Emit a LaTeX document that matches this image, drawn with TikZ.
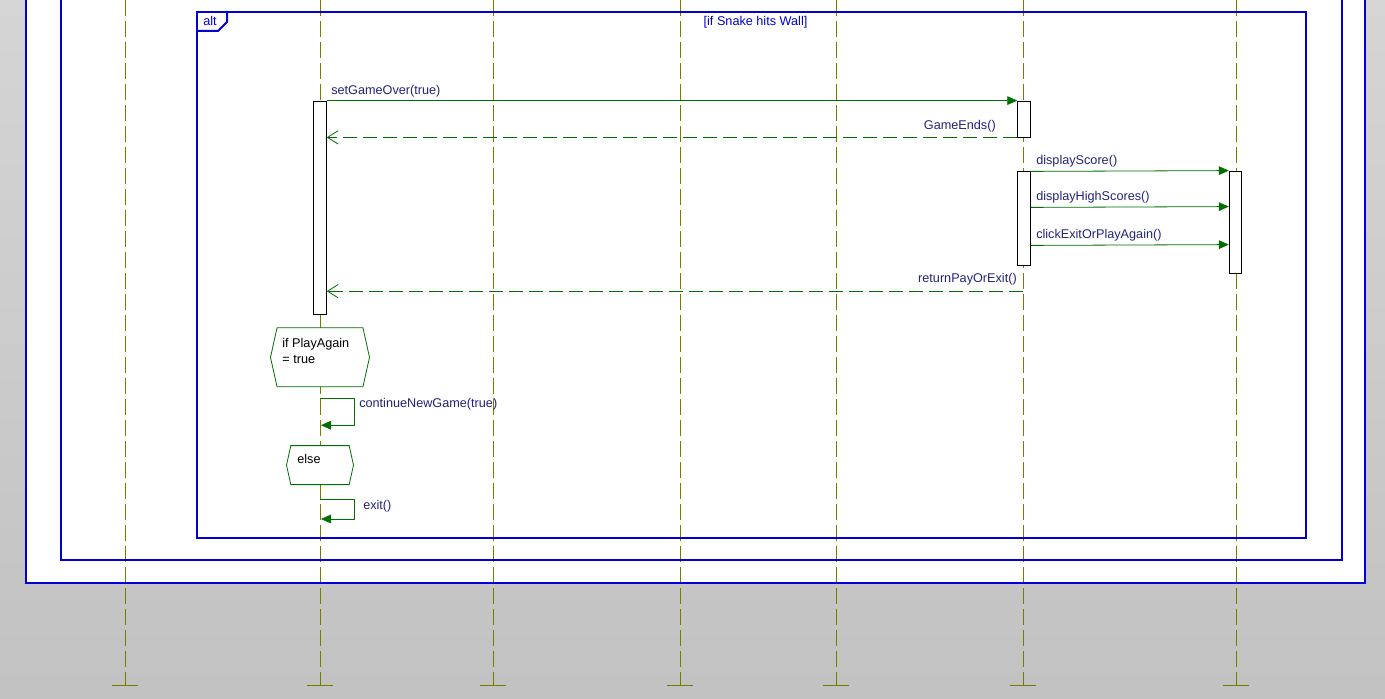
\documentclass[tikz,border=0pt]{standalone}
\usepackage{fontspec}
\setmainfont{Liberation Sans}
\usepackage{tikz}
\usetikzlibrary{shapes.symbols}
\usetikzlibrary{positioning}
\usetikzlibrary{calc}
\usetikzlibrary{arrows.meta}
\definecolor{frameblue}{RGB}{0,0,215}
\definecolor{lifeolive}{RGB}{122,122,0}
\definecolor{msggreen}{RGB}{0,110,0}
\definecolor{msgtext}{RGB}{35,35,125}
\tikzset{
	lifeline/.style={lifeolive,line width=0.6pt,dash pattern=on 12pt off 3.75pt},
	tick/.style={lifeolive,line width=0.6pt},
	frame/.style={frameblue,line width=1.5pt},
	act/.style={rectangle,draw=black,fill=white,line width=0.6pt,minimum width=9.5pt,inner sep=0pt},
	call/.style={msggreen,line width=0.6pt,-{Triangle[length=7.5pt,width=6.5pt]}},
	reply/.style={msggreen,line width=0.6pt,dash pattern=on 10.5pt off 4.5pt,
		-{Straight Barb[length=8pt,width=10pt]}},
	msg/.style={font=\fontsize{9.5}{12}\selectfont,text=msgtext,inner sep=0pt},
	cond/.style={signal,signal to=east and west,signal pointer angle=155,draw=msggreen,
		fill=white,line width=0.6pt,inner sep=0pt},
	condtext/.style={font=\fontsize{9.5}{12}\selectfont,align=left,inner sep=0pt}
}

\begin{document}
\begin{tikzpicture}[x=0.75pt,y=-0.75pt]
	\useasboundingbox (0,0) rectangle (1385,699);
	\clip (0,0) rectangle (1385,699);

	% window and diagram background
	\shade[top color=gray!33,bottom color=gray!48] (0,0) rectangle (1385,699);
	\fill[white] (26,-20) rectangle (1365,583);

	% lifelines
	\coordinate (top1) at (125,0);  \coordinate (bot1) at (125,685);
	\coordinate (top2) at (320,0);  \coordinate (bot2) at (320,685);
	\coordinate (top3) at (493,0);  \coordinate (bot3) at (493,685);
	\coordinate (top4) at (680,0);  \coordinate (bot4) at (680,685);
	\coordinate (top5) at (836,0);  \coordinate (bot5) at (836,685);
	\coordinate (top6) at (1023,0); \coordinate (bot6) at (1023,685);
	\coordinate (top7) at (1236,0); \coordinate (bot7) at (1236,685);
	\path[lifeline]
	  (top1) edge (bot1)
	  (top2) edge (bot2)
	  (top3) edge (bot3)
	  (top4) edge (bot4)
	  (top5) edge (bot5)
	  (top6) edge (bot6)
	  (top7) edge (bot7);
	\path[tick]
	  ([xshift=-9.75pt]bot1) edge ([xshift=9.75pt]bot1)
	  ([xshift=-9.75pt]bot2) edge ([xshift=9.75pt]bot2)
	  ([xshift=-9.75pt]bot3) edge ([xshift=9.75pt]bot3)
	  ([xshift=-9.75pt]bot4) edge ([xshift=9.75pt]bot4)
	  ([xshift=-9.75pt]bot5) edge ([xshift=9.75pt]bot5)
	  ([xshift=-9.75pt]bot6) edge ([xshift=9.75pt]bot6)
	  ([xshift=-9.75pt]bot7) edge ([xshift=9.75pt]bot7);

	% frames
	\draw[frame] (26,-20) rectangle (1365,583);
	\draw[frame] (61,-20) rectangle (1342,560);
	\node[frame,draw,rectangle,minimum width=831.75pt,minimum height=394.5pt,inner sep=0pt] (alt) at (751.5,275) {};
	\draw[frame] (alt.north west) ++(0,20) -- ++(22,0) -- ++(9,-9) -- ++(0,-11);
	\node[msg,text=frameblue,anchor=west] (alttag) at ($(alt.north west)+(7,10)$) {alt};
	\node[msg,text=frameblue] (guard) at ($(alt.north)+(4,11)$) {[if Snake hits Wall]};

	% activations
	\node[act,minimum height=159.75pt] (act2) at (320,207.5) {};
	\node[act,minimum height=27pt] (act6a) at (1024,119) {};
	\node[act,minimum height=70.5pt] (act6b) [below=25.5pt of act6a] {};
	\node[act,minimum height=76.5pt] (act7) at (1235.5,222) {};

	% messages
	\draw[call] (act2.north east) -- (act6a.north west);
	\node[msg,anchor=west] (m1) at (331,91) {setGameOver(true)};
	\draw[reply] (act6a.south west) -- (act6a.south west -| act2.east);
	\node[msg,anchor=east] (m2) at (996,126) {GameEnds()};
	\draw[call] (act6b.north east) -- (act7.north west);
	\node[msg,anchor=west] (m3) at (1036,161) {displayScore()};
	\draw[call] ($(act6b.north east)+(0,36)$) -- ($(act7.north west)+(0,36)$);
	\node[msg,anchor=west] (m4) at (1036,197) {displayHighScores()};
	\draw[call] ($(act6b.north east)+(0,74)$) -- ($(act7.north west)+(0,74)$);
	\node[msg,anchor=west] (m5) at (1036,235) {clickExitOrPlayAgain()};
	\coordinate (ret) at ($(act6b.south)+(-1,25)$);
	\draw[reply] (ret) -- (ret -| act2.east);
	\node[msg,anchor=east] (m6) at (1017,279) {returnPayOrExit()};

	% alternatives
	\node[cond,minimum width=74.25pt,minimum height=44.25pt] (hex1) [below=9.75pt of act2] {};
	\node[condtext,anchor=west] (c1) at ($(hex1.west)+(12,-6.5)$) {if PlayAgain\\= true};
	\draw[call] ($(hex1.south)+(0,11)$) -- ++(34,0) -- ++(0,27) -- ++(-33,0);
	\node[msg,anchor=west] (m7) at (359,404) {continueNewGame(true)};
	\node[cond,minimum width=50.25pt,minimum height=29.25pt] (hex2) [below=43.5pt of hex1] {};
	\node[condtext,anchor=west] (c2) at ($(hex2.west)+(11,-6.5)$) {else};
	\draw[call] ($(hex2.south)+(0,14)$) -- ++(34,0) -- ++(0,20) -- ++(-33,0);
	\node[msg,anchor=west] (m8) at (363,506) {exit()};
\end{tikzpicture}
\end{document}
